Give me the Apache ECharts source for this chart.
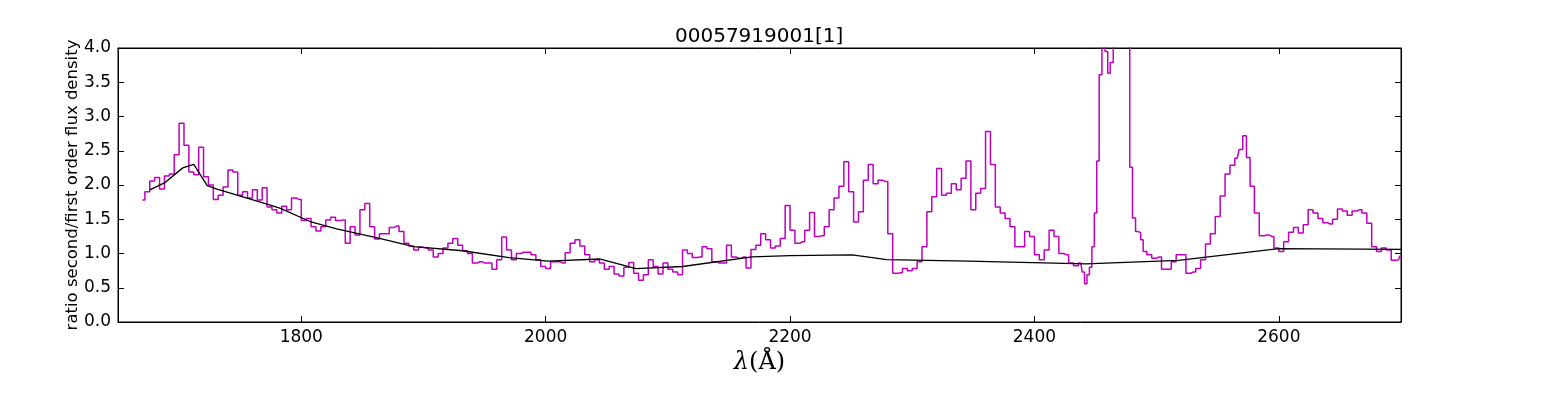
<!DOCTYPE html>
<html>
<head>
<meta charset="utf-8">
<script src="https://cdn.jsdelivr.net/npm/echarts@6/dist/echarts.min.js"></script>
<style>
  html, body { margin: 0; padding: 0; background: #fff; }
  #chart { width: 1556px; height: 397px; }
</style>
</head>
<body>
<div id="chart"></div>
<script>
// ratio of second to first order flux as [wavelength, ratio]
const ratioSpectrum = [
  [1670, 1.78], [1674, 1.90], [1678, 2.06], [1682, 2.11], [1686, 1.94], [1690, 2.13],
  [1694, 2.16], [1698, 2.44], [1702, 2.90], [1706, 2.58], [1710, 2.19], [1714, 2.15],
  [1718, 2.55], [1722, 2.12], [1726, 2.00], [1730, 1.79], [1734, 1.85], [1738, 1.97],
  [1742, 2.22], [1746, 2.19], [1750, 1.85], [1754, 1.90], [1758, 1.81], [1762, 1.93],
  [1766, 1.78], [1770, 1.96], [1774, 1.68], [1778, 1.64], [1782, 1.59], [1786, 1.69],
  [1790, 1.64], [1794, 1.81], [1798, 1.79], [1802, 1.48], [1806, 1.51], [1810, 1.39],
  [1814, 1.33], [1818, 1.39], [1822, 1.49], [1826, 1.53], [1830, 1.48], [1834, 1.49],
  [1838, 1.15], [1842, 1.39], [1846, 1.27], [1850, 1.64], [1854, 1.73], [1858, 1.39],
  [1862, 1.21], [1866, 1.29], [1870, 1.29], [1874, 1.38], [1878, 1.40], [1882, 1.32],
  [1886, 1.15], [1890, 1.11], [1894, 1.05], [1898, 1.09], [1902, 1.08], [1906, 1.05],
  [1910, 0.95], [1914, 1.00], [1918, 1.08], [1922, 1.15], [1926, 1.22], [1930, 1.12],
  [1934, 1.04], [1938, 1.00], [1942, 0.86], [1946, 0.88], [1950, 0.86], [1954, 0.86],
  [1958, 0.77], [1962, 0.91], [1966, 1.24], [1970, 1.05], [1974, 0.91], [1978, 1.00],
  [1982, 1.02], [1986, 1.02], [1990, 0.98], [1994, 0.91], [1998, 0.81], [2002, 0.78],
  [2006, 0.88], [2010, 0.88], [2014, 0.86], [2018, 1.01], [2022, 1.15], [2026, 1.20],
  [2030, 1.11], [2034, 0.98], [2038, 0.88], [2042, 0.91], [2046, 0.86], [2050, 0.77],
  [2054, 0.81], [2058, 0.70], [2062, 0.67], [2066, 0.80], [2070, 0.87], [2074, 0.71],
  [2078, 0.61], [2082, 0.69], [2086, 0.91], [2090, 0.81], [2094, 0.70], [2098, 0.86],
  [2102, 0.77], [2106, 0.73], [2110, 0.69], [2114, 1.05], [2118, 1.00], [2122, 0.94],
  [2126, 0.95], [2130, 1.10], [2134, 1.07], [2138, 0.88], [2142, 0.86], [2146, 0.86],
  [2150, 1.12], [2154, 0.95], [2158, 0.93], [2162, 0.95], [2166, 0.79], [2170, 1.06],
  [2174, 1.12], [2178, 1.29], [2182, 1.20], [2186, 1.08], [2190, 1.11], [2194, 1.22],
  [2198, 1.70], [2202, 1.34], [2206, 1.15], [2210, 1.17], [2214, 1.34], [2218, 1.60],
  [2222, 1.25], [2226, 1.26], [2230, 1.39], [2234, 1.64], [2238, 1.81], [2242, 1.98],
  [2246, 2.34], [2250, 1.90], [2254, 1.46], [2258, 1.61], [2262, 2.07], [2266, 2.30],
  [2270, 2.02], [2274, 2.07], [2278, 2.05], [2282, 1.29], [2286, 0.71], [2290, 0.72],
  [2294, 0.78], [2298, 0.75], [2302, 0.78], [2306, 0.88], [2310, 1.10], [2314, 1.61],
  [2318, 1.83], [2322, 2.24], [2326, 1.85], [2330, 1.88], [2334, 2.02], [2338, 1.93],
  [2342, 2.10], [2346, 2.35], [2350, 1.64], [2354, 1.88], [2358, 1.95], [2362, 2.78],
  [2366, 2.30], [2370, 1.68], [2374, 1.59], [2378, 1.51], [2382, 1.39], [2386, 1.10],
  [2390, 1.10], [2394, 1.32], [2398, 1.25], [2402, 0.98], [2406, 0.91], [2410, 1.05],
  [2414, 1.34], [2418, 1.25], [2422, 1.00], [2426, 0.98], [2430, 0.86], [2434, 0.82],
  [2438, 0.86], [2440, 0.73], [2442, 0.56], [2444, 0.69], [2446, 0.80], [2448, 1.10],
  [2450, 1.59], [2452, 2.35], [2454, 3.61], [2456.5, 4.60], [2459, 3.95], [2461, 3.63],
  [2463, 3.79], [2466, 5.50], [2470, 6.00], [2474, 6.00], [2477, 5.50], [2479, 2.26],
  [2481.5, 1.52], [2484, 1.32], [2486, 1.30], [2488, 1.20], [2490, 1.03], [2494, 0.98],
  [2498, 0.93], [2502, 0.95], [2506, 0.77], [2510, 0.77], [2514, 0.88], [2518, 0.98],
  [2522, 0.98], [2526, 0.71], [2530, 0.73], [2534, 0.78], [2538, 0.91], [2542, 1.14],
  [2546, 1.29], [2550, 1.54], [2554, 1.84], [2558, 2.16], [2562, 2.29], [2566, 2.39],
  [2569, 2.52], [2572, 2.72], [2575, 2.40], [2578, 1.98], [2582, 1.59], [2586, 1.26],
  [2590, 1.27], [2594, 1.25], [2598, 1.08], [2602, 1.03], [2606, 1.17], [2610, 1.31],
  [2614, 1.38], [2618, 1.30], [2622, 1.42], [2626, 1.64], [2630, 1.59], [2634, 1.51],
  [2638, 1.45], [2642, 1.43], [2646, 1.50], [2650, 1.65], [2654, 1.62], [2658, 1.56],
  [2662, 1.62], [2666, 1.64], [2670, 1.59], [2674, 1.44], [2678, 1.10], [2682, 1.03],
  [2686, 1.08], [2690, 1.05], [2694, 0.90], [2698, 0.91], [2700, 0.96]
];

// the smooth black curve
const fitCurve = [
  [1676, 1.93], [1688, 2.03], [1703, 2.25], [1712, 2.30], [1723, 1.99], [1731, 1.94],
  [1772, 1.72], [1783, 1.66], [1808, 1.46], [1829, 1.36], [1864, 1.22], [1892, 1.10],
  [1932, 1.04], [1970, 0.94], [2002, 0.89], [2044, 0.92], [2074, 0.78], [2112, 0.81],
  [2169, 0.95], [2200, 0.97], [2251, 0.98], [2279, 0.91], [2346, 0.89], [2442, 0.85],
  [2518, 0.90], [2537, 0.94], [2600, 1.07], [2700, 1.06]
];

const xTicks = [1800, 2000, 2200, 2400, 2600];

const font = 'DejaVu Sans';
const chart = echarts.init(document.getElementById('chart'));

const tickStyle = { inside: true, length: 6, lineStyle: { color: '#000', width: 1 } };

chart.setOption({
  animation: false,
  title: {
    text: '00057919001[1]',
    left: 675,
    top: 27,
    padding: 0,
    textStyle: { fontFamily: font, fontSize: 20, fontWeight: 'normal', color: '#000' }
  },
  grid: {
    left: 118, right: 155, top: 48, bottom: 75,
    show: true, borderColor: '#000', borderWidth: 1, backgroundColor: 'transparent'
  },
  xAxis: [{
    type: 'value', position: 'bottom', min: 1650, max: 2700,
    axisLine: { show: true, onZero: false, lineStyle: { color: '#000' } },
    axisTick: Object.assign({ show: true, customValues: xTicks }, tickStyle),
    axisLabel: {
      customValues: xTicks, color: '#000', fontFamily: font, fontSize: 17, margin: 7,
      formatter: v => String(v)
    },
    splitLine: { show: false },
    name: '{i|λ}{n|(Å)}',
    nameLocation: 'middle',
    nameGap: 25,
    nameTextStyle: {
      rich: {
        i: { fontFamily: 'DejaVu Serif', fontStyle: 'italic', fontSize: 24, color: '#000' },
        n: { fontFamily: 'DejaVu Serif', fontSize: 24, color: '#000' }
      }
    }
  }, {
    type: 'value', position: 'top', min: 1650, max: 2700,
    axisLine: { show: true, onZero: false, lineStyle: { color: '#000' } },
    axisTick: Object.assign({ show: true, customValues: xTicks }, tickStyle),
    axisLabel: { show: false },
    splitLine: { show: false }
  }],
  yAxis: [{
    type: 'value', position: 'left', min: 0, max: 4, interval: 0.5,
    axisLine: { show: true, lineStyle: { color: '#000' } },
    axisTick: Object.assign({ show: true }, tickStyle),
    axisLabel: {
      color: '#000', fontFamily: font, fontSize: 17, margin: 7,
      formatter: v => v.toFixed(1)
    },
    splitLine: { show: false },
    name: 'ratio second/first order flux density',
    nameLocation: 'middle',
    nameGap: 37,
    nameMoveOverlap: false,
    nameTextStyle: { fontFamily: font, fontSize: 16.5, color: '#000' }
  }, {
    type: 'value', position: 'right', min: 0, max: 4, interval: 0.5,
    axisLine: { show: true, lineStyle: { color: '#000' } },
    axisTick: Object.assign({ show: true }, tickStyle),
    axisLabel: { show: false },
    splitLine: { show: false }
  }],
  series: [{
    type: 'line',
    data: ratioSpectrum,
    step: 'middle',
    showSymbol: false,
    clip: true,
    lineStyle: { color: '#bf00bf', width: 1.5 },
    itemStyle: { color: '#bf00bf' }
  }, {
    type: 'line',
    data: fitCurve,
    showSymbol: false,
    clip: true,
    lineStyle: { color: '#000', width: 1.3 },
    itemStyle: { color: '#000' }
  }]
});
</script>
</body>
</html>
